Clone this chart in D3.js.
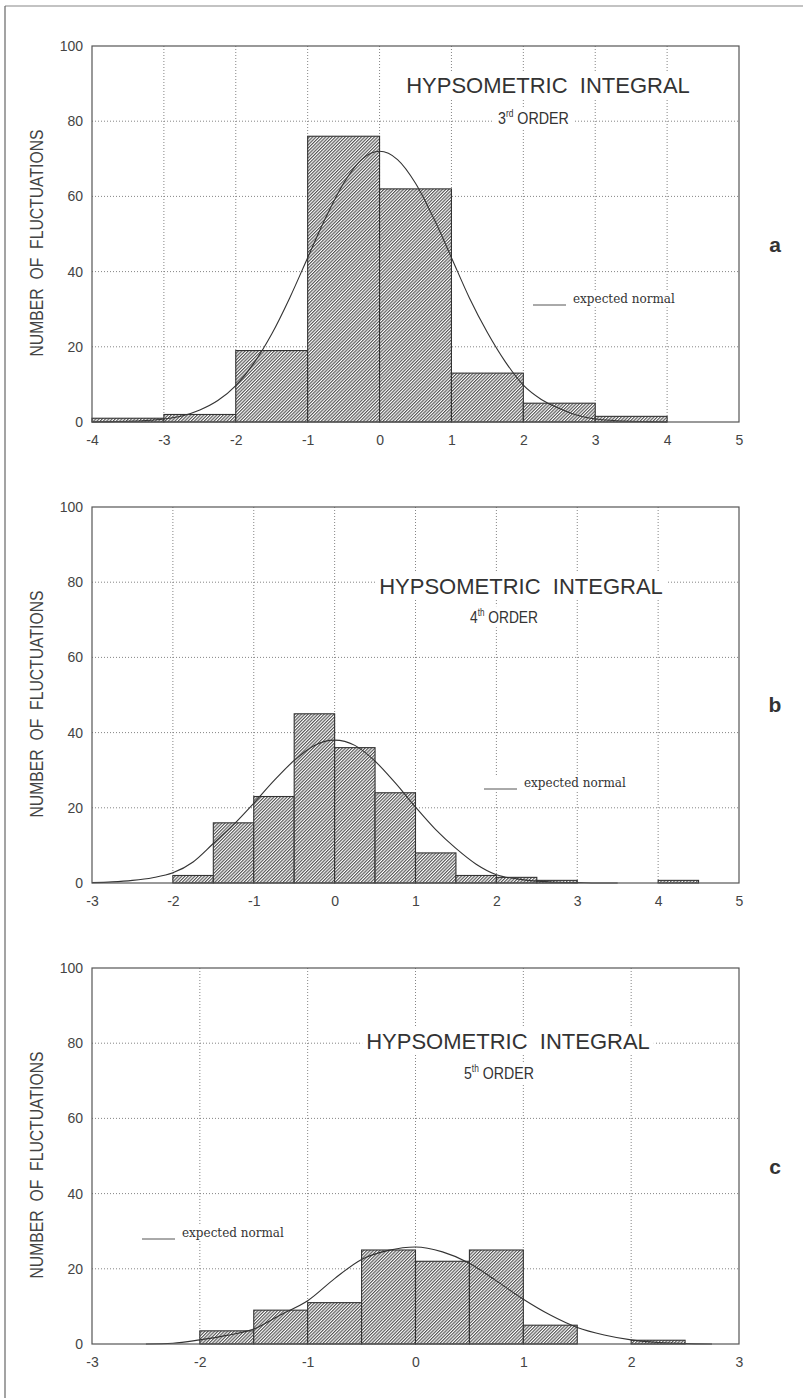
<!DOCTYPE html>
<html>
<head>
<meta charset="utf-8">
<script src="https://cdn.jsdelivr.net/npm/d3@7"></script>
<style>
  html, body { margin: 0; padding: 0; background: #fff; }
  svg { display: block; }
  text { white-space: pre; }
</style>
</head>
<body>
<svg id="chart" width="803" height="1398"></svg>
<script>
// ---------------- DATA ----------------
const panelLetters = ["a", "b", "c"];
const orderNumbers = ["3", "4", "5"];
const orderSuffixes = ["rd", "th", "th"];
const titleText = "HYPSOMETRIC  INTEGRAL";
const yAxisTitle = "NUMBER  OF  FLUCTUATIONS";
const legendText = "expected normal";

const yTicks = [0, 20, 40, 60, 80, 100];
const xTicksA = [-4, -3, -2, -1, 0, 1, 2, 3, 4, 5];
const xTicksB = [-3, -2, -1, 0, 1, 2, 3, 4, 5];
const xTicksC = [-3, -2, -1, 0, 1, 2, 3];

// histogram bins (left edge) and counts
const binWidthA = 1;
const binStartsA = [-4, -3, -2, -1, 0, 1, 2, 3];
const countsA = [1, 2, 19, 76, 62, 13, 5, 1.5];

const binWidthB = 0.5;
const binStartsB = [-2, -1.5, -1, -0.5, 0, 0.5, 1, 1.5, 2, 2.5, 4];
const countsB = [2, 16, 23, 45, 36, 24, 8, 2, 1.5, 0.7, 0.7];

const binWidthC = 0.5;
const binStartsC = [-2, -1.5, -1, -0.5, 0, 0.5, 1, 2];
const countsC = [3.5, 9, 11, 25, 22, 25, 5, 1];

// expected normal curves
const curveXA = [-4, -3.75, -3.5, -3.25, -3, -2.75, -2.5, -2.25, -2, -1.75, -1.5, -1.25, -1, -0.75, -0.5, -0.25, 0,
                 0.25, 0.5, 0.75, 1, 1.25, 1.5, 1.75, 2, 2.25, 2.5, 2.75, 3, 3.25, 3.5, 3.75, 4];
const curveYA = [0, 0.1, 0.2, 0.4, 0.8, 1.6, 3.2, 5.7, 9.7, 15.6, 23.4, 33.0, 43.7, 54.3, 63.5, 69.8, 72,
                 69.8, 63.5, 54.3, 43.7, 33.0, 23.8, 16.0, 9.8, 6.0, 3.6, 1.8, 0.8, 0.4, 0.2, 0.1, 0];

const curveXB = [-3, -2.75, -2.5, -2.25, -2, -1.75, -1.5, -1.25, -1, -0.75, -0.5, -0.25, 0,
                 0.25, 0.5, 0.75, 1, 1.25, 1.5, 1.75, 2, 2.25, 2.5, 2.75, 3, 3.25, 3.5];
const curveYB = [0.1, 0.3, 0.7, 1.4, 2.7, 5.6, 10.5, 15.5, 21.2, 27.2, 32.6, 36.6, 38,
                 36.6, 32.4, 26.6, 20.2, 14.2, 9.2, 5.0, 2.2, 1.1, 0.5, 0.2, 0.1, 0, 0];

const curveXC = [-2.5, -2.25, -2, -1.75, -1.5, -1.25, -1, -0.75, -0.5, -0.25, 0,
                 0.25, 0.5, 0.75, 1, 1.25, 1.5, 1.75, 2, 2.25, 2.5, 2.75];
const curveYC = [0, 0.2, 1.1, 2.3, 4.0, 7.8, 11.5, 17.4, 22.5, 24.9, 25.8,
                 24.5, 21.5, 16.8, 11.9, 7.7, 4.4, 2.4, 1.1, 0.4, 0.1, 0];

// ---------------- LAYOUT ----------------
const panels = [
  { top: 46,  ticks: xTicksA, bw: binWidthA, bins: binStartsA, counts: countsA, cx: curveXA, cy: curveYA,
    title: [548, 47], sub: [498, 78, 71], leg: [533, 259], letterY: 206 },
  { top: 507, ticks: xTicksB, bw: binWidthB, bins: binStartsB, counts: countsB, cx: curveXB, cy: curveYB,
    title: [521, 87], sub: [470, 116, 68], leg: [484, 282], letterY: 205 },
  { top: 968, ticks: xTicksC, bw: binWidthC, bins: binStartsC, counts: countsC, cx: curveXC, cy: curveYC,
    title: [508, 81], sub: [464, 111, 70], leg: [142, 271], letterY: 206 }
];
const left = 92, width = 647, height = 376;

const svg = d3.select("#chart");
svg.append("rect").attr("width", 803).attr("height", 1398).attr("fill", "#fff");

// hatch pattern
const defs = svg.append("defs");
const pat = defs.append("pattern").attr("id", "hatch")
  .attr("patternUnits", "userSpaceOnUse").attr("width", 2.3).attr("height", 6)
  .attr("patternTransform", "rotate(45)");
pat.append("rect").attr("width", 2.3).attr("height", 6).attr("fill", "#fff");
pat.append("line").attr("x1", 0.6).attr("y1", 0).attr("x2", 0.6).attr("y2", 6)
  .attr("stroke", "#444").attr("stroke-width", 1.05);

// outer frame (top and left)
svg.append("line").attr("x1", 5).attr("y1", 6).attr("x2", 803).attr("y2", 6)
  .attr("stroke", "#888").attr("stroke-width", 1.2);
svg.append("line").attr("x1", 5).attr("y1", 6).attr("x2", 5).attr("y2", 1398)
  .attr("stroke", "#666").attr("stroke-width", 1.2);

panels.forEach((p, i) => {
  const ticks = p.ticks;
  const x = d3.scaleLinear().domain([ticks[0], ticks[ticks.length - 1]]).range([left, left + width]);
  const y = d3.scaleLinear().domain([0, 100]).range([p.top + height, p.top]);
  const g = svg.append("g");

  // grid
  const grid = g.append("g").attr("stroke", "#777").attr("stroke-width", 0.9).attr("stroke-dasharray", "1,2");
  grid.selectAll("line.v").data(ticks.slice(1, -1)).join("line")
    .attr("x1", d => x(d)).attr("x2", d => x(d)).attr("y1", y(0)).attr("y2", y(100));
  grid.selectAll("line.h").data(yTicks.slice(1, -1)).join("line")
    .attr("x1", left).attr("x2", left + width).attr("y1", d => y(d)).attr("y2", d => y(d));

  // title texts with white backgrounds
  const tg = g.append("g");
  const t1 = tg.append("text").attr("x", p.title[0]).attr("y", p.top + p.title[1])
    .attr("text-anchor", "middle").attr("font-family", "Liberation Sans, Arial, sans-serif")
    .attr("font-size", 22).attr("fill", "#333").text(titleText);
  const sx0 = p.sub[0], sy0 = p.top + p.sub[1];
  const t2 = tg.append("text").attr("x", sx0).attr("y", sy0)
    .attr("font-family", "Liberation Sans, Arial, sans-serif")
    .attr("font-size", 17).attr("fill", "#333");
  t2.append("tspan").text(orderNumbers[i]);
  t2.append("tspan").attr("font-size", 10).attr("dy", -7).text(orderSuffixes[i]);
  t2.append("tspan").attr("dy", 7).text(" ORDER");
  const w2 = t2.node().getBBox().width;
  const sc = p.sub[2] / w2;
  t2.attr("transform", `translate(${sx0},${sy0}) scale(${sc},1) translate(${-sx0},${-sy0})`);
  const b1 = t1.node().getBBox();
  tg.insert("rect", "text").attr("x", b1.x - 4).attr("y", b1.y - 1)
    .attr("width", b1.width + 8).attr("height", b1.height + 2).attr("fill", "#fff");
  const b2 = t2.node().getBBox();
  tg.insert("rect", "text").attr("x", sx0 - 4).attr("y", b2.y - 1)
    .attr("width", p.sub[2] + 8).attr("height", b2.height + 2).attr("fill", "#fff");

  // legend
  const lg = g.append("g");
  const lt = lg.append("text").attr("x", p.leg[0] + 40).attr("y", p.top + p.leg[1] - 2)
    .attr("font-family", "DejaVu Serif, serif").attr("font-size", 12).attr("fill", "#333")
    .text(legendText);
  const lb = lt.node().getBBox();
  lg.insert("rect", "text").attr("x", p.leg[0] - 3).attr("y", lb.y - 1)
    .attr("width", lb.x + lb.width - p.leg[0] + 6).attr("height", lb.height + 2).attr("fill", "#fff");
  lg.append("line").attr("x1", p.leg[0]).attr("x2", p.leg[0] + 33)
    .attr("y1", p.top + p.leg[1]).attr("y2", p.top + p.leg[1])
    .attr("stroke", "#555").attr("stroke-width", 1);

  // bars
  const bars = p.bins.map((b, k) => ({ x0: b, x1: b + p.bw, v: p.counts[k] }));
  g.append("g").selectAll("rect").data(bars).join("rect")
    .attr("x", d => x(d.x0)).attr("width", d => x(d.x1) - x(d.x0))
    .attr("y", d => y(d.v)).attr("height", d => y(0) - y(d.v))
    .attr("fill", "url(#hatch)").attr("stroke", "#333").attr("stroke-width", 1.1);

  // expected normal curve
  const line = d3.line().x(d => x(d[0])).y(d => y(d[1])).curve(d3.curveMonotoneX);
  g.append("path").datum(p.cx.map((v, k) => [v, p.cy[k]]))
    .attr("d", line).attr("fill", "none").attr("stroke", "#333").attr("stroke-width", 1.1);

  // frame
  g.append("rect").attr("x", left).attr("y", p.top).attr("width", width).attr("height", height)
    .attr("fill", "none").attr("stroke", "#555").attr("stroke-width", 1.2);

  // axes (labels only)
  const xAxis = d3.axisBottom(x).tickValues(ticks).tickSize(0).tickPadding(13).tickFormat(d3.format("d"));
  const xa = g.append("g").attr("transform", `translate(0,${y(0)})`).call(xAxis);
  xa.select(".domain").remove();
  xa.selectAll("text").attr("font-family", "Liberation Sans, Arial, sans-serif").attr("font-size", 14)
    .attr("fill", "#444").text(d => d < 0 ? "-" + Math.abs(d) : d);

  const yAxis = d3.axisLeft(y).tickValues(yTicks).tickSize(0).tickPadding(9);
  const ya = g.append("g").attr("transform", `translate(${left},0)`).call(yAxis);
  ya.select(".domain").remove();
  ya.selectAll("text").attr("font-family", "Liberation Sans, Arial, sans-serif").attr("font-size", 14)
    .attr("fill", "#444");

  // y title
  g.append("text").attr("transform", `translate(43,${p.top + height / 2 + 9}) rotate(-90)`)
    .attr("text-anchor", "middle").attr("font-family", "Liberation Sans, Arial, sans-serif")
    .attr("font-size", 18).attr("textLength", 227).attr("lengthAdjust", "spacingAndGlyphs")
    .attr("fill", "#444").text(yAxisTitle);

  // panel letter
  g.append("text").attr("x", 775).attr("y", p.top + p.letterY).attr("text-anchor", "middle")
    .attr("font-family", "Liberation Sans, Arial, sans-serif").attr("font-size", 21).attr("font-weight", "bold")
    .attr("fill", "#333").text(panelLetters[i]);
});
</script>
</body>
</html>
